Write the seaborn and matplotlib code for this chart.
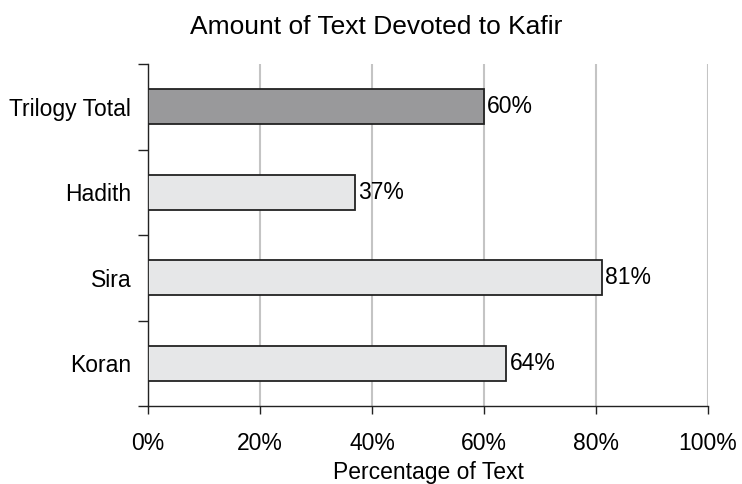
import matplotlib
matplotlib.use("Agg")
import matplotlib.pyplot as plt
import seaborn as sns
import pandas as pd
import numpy as np

categories = ["Trilogy Total", "Hadith", "Sira", "Koran"]
values = [60, 37, 81, 64]
colors = ["#99999b", "#e6e7e8", "#e6e7e8", "#e6e7e8"]

sns.set_style("white")
plt.rcParams['font.family'] = ['Liberation Sans', 'DejaVu Sans']
plt.rcParams['text.color'] = 'black'
plt.rcParams['xtick.color'] = 'black'
plt.rcParams['ytick.color'] = 'black'
plt.rcParams['axes.labelcolor'] = 'black'

df = pd.DataFrame({"categorie": categories, "valeur": values})

fig = plt.figure(figsize=(7.42, 4.84), dpi=100)
ax = fig.add_axes([148/742, 1-406/484, (708-148)/742, (406-64)/484])

sns.barplot(data=df, x="valeur", y="categorie", hue="categorie",
            palette=colors, legend=False, ax=ax, width=0.41,
            edgecolor="#222222", linewidth=1.3, zorder=3)

ax.set_xlim(0, 100)
ax.set_ylim(3.5, -0.5)
ax.set_xticks(np.arange(0, 101, 20))
ax.set_xticklabels([f"{v}%" for v in range(0, 101, 20)], fontsize=16.5)
ax.tick_params(axis="x", bottom=True, direction="out", length=6, width=1, color="#222222", pad=13)
ax.tick_params(axis="y", left=True, length=0, labelsize=16.5, pad=12)
ax.set_yticks(np.arange(-0.5, 4, 1), minor=True)
ax.tick_params(axis="y", which="minor", left=True, direction="out", length=7.5, width=1, color="#222222")

ax.grid(axis="x", color="#c4c4c4", linewidth=1.5, zorder=0)
ax.set_axisbelow(True)
for s in ["top", "right"]:
    ax.spines[s].set_visible(False)
for s in ["left", "bottom"]:
    ax.spines[s].set_color("#222222")
    ax.spines[s].set_linewidth(1)

for i, v in enumerate(values):
    ax.text(v + 0.6, i, f"{v}%", va="center", ha="left", fontsize=16.5)

ax.set_ylabel("")
ax.set_xlabel("Percentage of Text", fontsize=16.5, labelpad=4)
fig.text(376/742, 1-27/484, "Amount of Text Devoted to Kafir", ha="center", va="center", fontsize=19)

fig.savefig("out.png", dpi=100)
